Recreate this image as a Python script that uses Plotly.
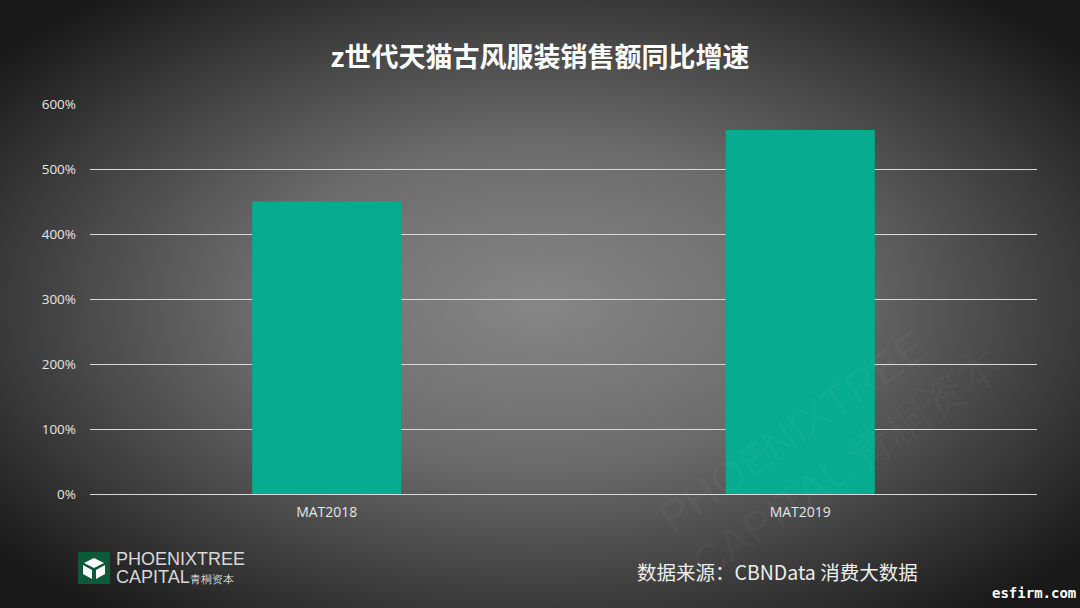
import plotly.graph_objects as go

categories = ["MAT2018", "MAT2019"]
growth_pct = [450, 560]
tick_vals = [0, 100, 200, 300, 400, 500, 600]
tick_text = ["0%", "100%", "200%", "300%", "400%", "500%", "600%"]

W, H = 1080, 608
ml, mr, mt, mb = 90, 43, 104, 114
pw, ph = W - ml - mr, H - mt - mb

bg_svg = (
    "data:image/svg+xml;utf8,"
    "<svg xmlns='http://www.w3.org/2000/svg' width='1080' height='608'>"
    "<defs><radialGradient id='g' cx='0.5' cy='0.5' r='0.65' gradientUnits='objectBoundingBox'>"
    "<stop offset='0' stop-color='%23868686'/>"
    "<stop offset='0.4' stop-color='%236c6c6c'/>"
    "<stop offset='0.75' stop-color='%233c3c3c'/>"
    "<stop offset='1' stop-color='%23181818'/>"
    "</radialGradient></defs>"
    "<rect width='1080' height='608' fill='url(%23g)'/></svg>"
)

logo_svg = (
    "data:image/svg+xml;utf8,"
    "<svg xmlns='http://www.w3.org/2000/svg' width='32' height='32'>"
    "<rect width='32' height='32' fill='%230d5a3a'/>"
    "<polygon points='16,6 26,11 16,16 6,11' fill='white'/>"
    "<polygon points='5,13 14,18 14,27 5,22' fill='white'/>"
    "<polygon points='27,13 18,18 18,27 27,22' fill='white'/>"
    "</svg>"
)

fig = go.Figure()
fig.add_trace(go.Bar(
    x=categories, y=growth_pct,
    marker=dict(color="#07AC90", line=dict(width=0)),
    width=0.315,
    hoverinfo="skip",
))

fig.update_layout(
    width=W, height=H,
    margin=dict(l=ml, r=mr, t=mt, b=mb),
    paper_bgcolor="#2a2a2a",
    plot_bgcolor="rgba(0,0,0,0)",
    showlegend=False,
    title=dict(
        text="<b>z世代天猫古风服装销售额同比增速</b>",
        x=0.5, xanchor="center", y=1 - 58 / H, yanchor="middle",
        font=dict(family="Noto Sans CJK SC", size=27, color="white"),
    ),
    xaxis=dict(
        showgrid=False, zeroline=False, showline=False,
        tickfont=dict(family="Open Sans", size=14, color="#e6e6e6"),
        ticks="", ticklabelstandoff=8,
    ),
    yaxis=dict(
        range=[0, 600], tickvals=tick_vals, ticktext=tick_text,
        showgrid=True, gridcolor="#d9d9d9", gridwidth=1,
        zeroline=True, zerolinecolor="#d9d9d9", zerolinewidth=1,
        tickfont=dict(family="Open Sans", size=13.5, color="#e6e6e6"),
        ticks="", ticklabelstandoff=13,
    ),
    images=[
        dict(source=bg_svg, xref="paper", yref="paper",
             x=-ml / pw, y=1 + mt / ph, sizex=W / pw, sizey=H / ph,
             xanchor="left", yanchor="top", sizing="stretch", layer="below"),
        dict(source=logo_svg, xref="paper", yref="paper",
             x=(78 - ml) / pw, y=(H - 552 - mb) / ph, sizex=32 / pw, sizey=32 / ph,
             xanchor="left", yanchor="top", sizing="stretch", layer="above"),
    ],
)

def px(x, y):
    return (x - ml) / pw, (H - mb - y) / ph

ann = []
x0, y0 = px(114, 559)
ann.append(dict(text="PHOENIXTREE", x=x0, y=y0, xref="paper", yref="paper",
                xanchor="left", yanchor="middle", showarrow=False,
                font=dict(family="Liberation Sans", size=18, color="#d8d8d8")))
x0, y0 = px(114, 577)
ann.append(dict(text="CAPITAL<span style='font-size:11px'>青桐资本</span>", x=x0, y=y0,
                xref="paper", yref="paper",
                xanchor="left", yanchor="middle", showarrow=False,
                font=dict(family="Liberation Sans", size=18, color="#d8d8d8")))
x0, y0 = px(635, 571)
ann.append(dict(text="数据来源：CBNData 消费大数据", x=x0, y=y0, xref="paper", yref="paper",
                xanchor="left", yanchor="middle", showarrow=False,
                font=dict(family="Noto Sans CJK SC", size=19.5, color="#eeeeee")))
x0, y0 = px(1078, 593)
ann.append(dict(text="<b>esfirm.com</b>", x=x0, y=y0, xref="paper", yref="paper",
                xanchor="right", yanchor="middle", showarrow=False,
                font=dict(family="DejaVu Sans Mono", size=14, color="white")))
x0, y0 = px(830, 440)
ann.append(dict(text="PHOENIXTREE<br>CAPITAL 青桐资本", x=x0, y=y0, xref="paper", yref="paper",
                xanchor="center", yanchor="middle", showarrow=False, textangle=-35,
                align="left",
                font=dict(family="Liberation Sans", size=44, color="rgba(255,255,255,0.035)")))
fig.update_layout(annotations=ann)

fig.write_html("out.html", config={"displayModeBar": False},
               post_script="document.body.style.margin='0';document.body.style.overflow='hidden';")
